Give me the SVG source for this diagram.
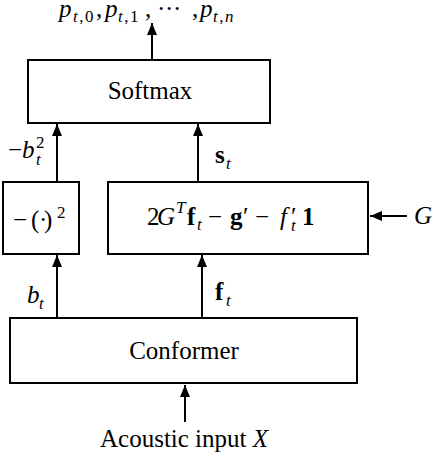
<svg xmlns="http://www.w3.org/2000/svg" width="434" height="460" viewBox="0 0 434 460">
<style>
.box{fill:#fff;stroke:#000;stroke-width:2}
.ln{stroke:#000;stroke-width:2;fill:none}
text{font-family:"Liberation Serif","Times New Roman",serif;font-size:25px;fill:#000}
.i{font-style:italic}
.b{font-weight:bold}
.s{font-size:17px}
.w{letter-spacing:1.5px}
</style>
<defs>
<marker id="ah" markerUnits="userSpaceOnUse" markerWidth="13" markerHeight="10" refX="12" refY="5" orient="auto">
<path d="M0,0 L12,5 L0,10 z" fill="#000"/>
</marker>
</defs>
<rect width="434" height="460" fill="#fff"/>
<g id="connectors">
<line class="ln" x1="152" y1="59" x2="152" y2="23" marker-end="url(#ah)"/>
<line class="ln" x1="57" y1="181" x2="57" y2="124" marker-end="url(#ah)"/>
<line class="ln" x1="198" y1="181" x2="198" y2="124" marker-end="url(#ah)"/>
<line class="ln" x1="57" y1="317" x2="57" y2="255" marker-end="url(#ah)"/>
<line class="ln" x1="202" y1="317" x2="202" y2="255" marker-end="url(#ah)"/>
<line class="ln" x1="407" y1="216" x2="370" y2="216" marker-end="url(#ah)"/>
<line class="ln" x1="185" y1="422" x2="185" y2="385" marker-end="url(#ah)"/>
<text x="8" y="158">−<tspan class="i" x="22">b</tspan><tspan class="s" x="36" y="148">2</tspan><tspan class="s i" x="36" y="165">t</tspan></text>
<text x="215" y="163"><tspan class="b">s</tspan><tspan class="s i" x="226" y="169">t</tspan></text>
<text x="27" y="303"><tspan class="i">b</tspan><tspan class="s i" x="39" y="309">t</tspan></text>
<text x="215" y="300"><tspan class="b">f</tspan><tspan class="s i" x="226" y="306">t</tspan></text>
<text class="i" x="414" y="224">G</text>
</g>
<g id="outputs">
<text y="17"><tspan class="i" x="59">p</tspan><tspan class="s w" y="22" x="73"><tspan class="i">t</tspan>,0</tspan><tspan x="96" y="17">,</tspan><tspan class="i" x="105">p</tspan><tspan class="s w" y="22" x="118"><tspan class="i">t</tspan>,1</tspan><tspan x="145" y="17">,</tspan><tspan x="157">·</tspan><tspan x="165">·</tspan><tspan x="173">·</tspan><tspan x="192">,</tspan><tspan class="i" x="200">p</tspan><tspan class="s w" y="22" x="213"><tspan class="i">t</tspan>,<tspan class="i">n</tspan></tspan></text>
</g>
<g id="softmax">
<rect class="box" x="28" y="60" width="242" height="63"/>
<text x="150" y="99" text-anchor="middle">Softmax</text>
</g>
<g id="square">
<rect class="box" x="3" y="182" width="76" height="72"/>
<text x="13" y="228">−<tspan x="31">(</tspan><tspan x="39">·</tspan><tspan x="44">)</tspan><tspan class="s" x="57" y="218">2</tspan></text>
</g>
<g id="score">
<rect class="box" x="108" y="182" width="260" height="72"/>
<text y="225"><tspan x="147">2</tspan><tspan class="i" x="157">G</tspan><tspan class="s i" x="176" y="213">T</tspan><tspan class="b" x="187" y="225">f</tspan><tspan class="s i" x="197" y="230">t</tspan><tspan x="208" y="225">−</tspan><tspan class="b" x="230">g</tspan><tspan x="243">′</tspan><tspan x="255">−</tspan><tspan class="i" x="280">f</tspan><tspan x="291">′</tspan><tspan class="s i" x="291" y="231">t</tspan><tspan class="b" x="302" y="225">1</tspan></text>
</g>
<g id="conformer">
<rect class="box" x="10" y="318" width="347" height="65"/>
<text x="184" y="359" text-anchor="middle">Conformer</text>
</g>
<g id="input">
<text x="100" y="447">Acoustic input <tspan class="i">X</tspan></text>
</g>
</svg>
